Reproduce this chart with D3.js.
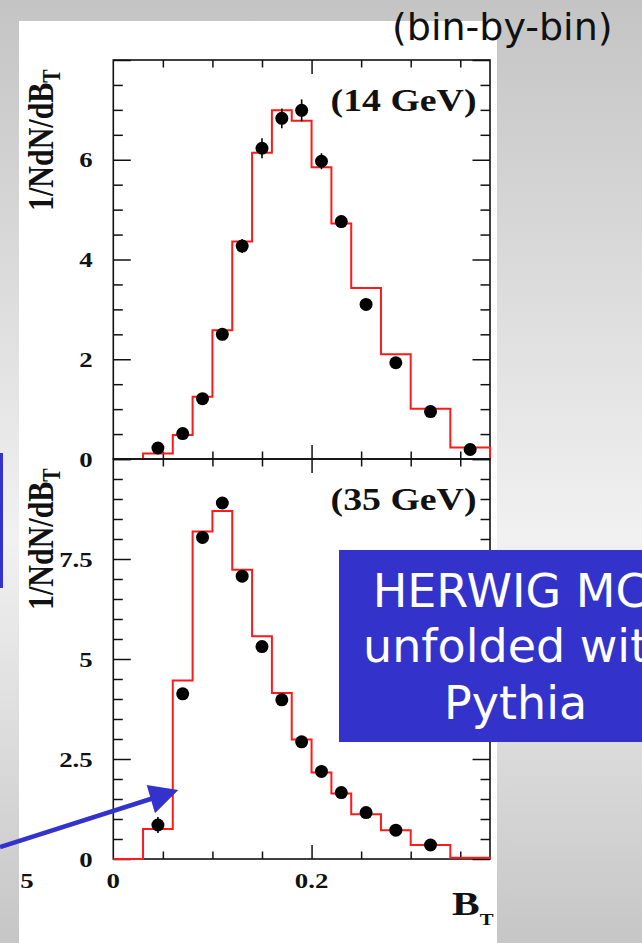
<!DOCTYPE html>
<html><head><meta charset="utf-8">
<script src="https://cdn.jsdelivr.net/npm/d3@7"></script>
<style>html,body{margin:0;padding:0;overflow:hidden;background:#fff}</style>
</head><body>
<svg id="c" width="642" height="943"></svg>
<script>
// ---- data ----
const binEdges14 = [0.03,0.06,0.08,0.10,0.12,0.14,0.16,0.18,0.20,0.22,0.24,0.27,0.30,0.34,0.38];
const mc14 = [0.11,0.48,1.25,2.58,4.36,6.14,6.99,6.78,5.85,4.72,3.43,2.10,1.01,0.23];
const dataX14 = [0.045,0.07,0.09,0.11,0.13,0.15,0.17,0.19,0.21,0.23,0.255,0.285,0.32,0.36];
const data14 = [0.22,0.51,1.21,2.50,4.27,6.23,6.83,6.99,5.97,4.76,3.10,1.93,0.95,0.19];
const err14 = [0.04,0.05,0.07,0.09,0.14,0.20,0.20,0.22,0.16,0.12,0.08,0.06,0.05,0.04];

const binEdges35 = [0,0.03,0.06,0.08,0.10,0.12,0.14,0.16,0.18,0.20,0.22,0.24,0.27,0.30,0.34,0.38];
const mc35 = [0,0.75,4.46,8.19,8.70,7.23,5.57,4.15,2.99,2.16,1.64,1.12,0.72,0.35,0.03];
const dataX35 = [0.045,0.07,0.09,0.11,0.13,0.15,0.17,0.19,0.21,0.23,0.255,0.285,0.32];
const data35 = [0.85,4.13,8.04,8.90,7.07,5.31,3.98,2.93,2.19,1.66,1.16,0.72,0.35];
const err35 = [0.2,0.12,0.15,0.15,0.12,0.1,0.08,0.07,0.06,0.05,0.05,0.04,0.04];

const xMajor = [0.2];
const xMinor = [0.05,0.10,0.15,0.25,0.30,0.35];
const yMajor14 = [0,2,4,6,8];
const yLabels14 = ["0","2","4","6"];
const yMajor35 = [0,2.5,5,7.5,10];
const yLabels35 = ["0","2.5","5","7.5"];
const xLabels = ["0","0.2"];
const panelTitles = ["(14 GeV)","(35 GeV)"];
const boxLines = ["HERWIG MC","unfolded with","Pythia"];

// ---- layout ----
const svg = d3.select("#c");
const W = 642, H = 943;
const X0 = 113.3, X1 = 490;
const SX = 1.22; // horizontal stretch of the original figure text
const serif = "'Liberation Serif','Times New Roman',serif";
const blue = "#3333cc";

const defs = svg.append("defs");
const g = defs.append("linearGradient").attr("id","bg").attr("x1",0).attr("y1",0).attr("x2",0).attr("y2",1);
g.append("stop").attr("offset","0").attr("stop-color","#c4c4c4");
g.append("stop").attr("offset","0.57").attr("stop-color","#f1f1f1");
g.append("stop").attr("offset","1").attr("stop-color","#c6c6c6");
svg.append("rect").attr("width",W).attr("height",H).attr("fill","url(#bg)");
svg.append("rect").attr("x",19).attr("y",21).attr("width",478).attr("height",H-21).attr("fill","#fff");

const x = d3.scaleLinear().domain([0,0.38]).range([X0,X1]);

function stretchedText(parent, tx, ty, txt, size, anchor, rot){
  return parent.append("text")
    .attr("transform", `translate(${tx},${ty}) scale(${SX},1)` + (rot?` rotate(${rot})`:""))
    .attr("text-anchor", anchor)
    .attr("font-family", serif).attr("font-weight","bold")
    .attr("font-size", size).attr("fill","#111")
    .text(txt);
}

function stepPoints(edges, vals){
  const pts = [[edges[0],0]];
  vals.forEach((v,i)=>{ pts.push([edges[i],v]); pts.push([edges[i+1],v]); });
  pts.push([edges[edges.length-1],0]);
  return pts;
}

function panel(yTop, yBot, ymax, yMajor, yLabels, edges, mc, dx, dy, de, title){
  const y = d3.scaleLinear().domain([0,ymax]).range([yBot,yTop]);
  const yMinor = d3.range(0, ymax+0.001, 0.5).filter(v => !yMajor.some(m=>Math.abs(m-v)<1e-6));
  const gp = svg.append("g");
  const axStyle = sel => { sel.select(".domain").remove(); sel.selectAll("text").remove();
    sel.selectAll("line").attr("stroke","#111").attr("stroke-width",1.5); };
  gp.append("g").attr("transform",`translate(${X0},0)`).call(d3.axisLeft(y).tickValues(yMajor).tickSize(-17.5)).call(axStyle);
  gp.append("g").attr("transform",`translate(${X0},0)`).call(d3.axisLeft(y).tickValues(yMinor).tickSize(-9.5)).call(axStyle);
  gp.append("g").attr("transform",`translate(${X1},0)`).call(d3.axisRight(y).tickValues(yMajor).tickSize(-17.5)).call(axStyle);
  gp.append("g").attr("transform",`translate(${X1},0)`).call(d3.axisRight(y).tickValues(yMinor).tickSize(-9.5)).call(axStyle);
  gp.append("g").attr("transform",`translate(0,${yBot})`).call(d3.axisBottom(x).tickValues(xMajor).tickSize(-14)).call(axStyle);
  gp.append("g").attr("transform",`translate(0,${yBot})`).call(d3.axisBottom(x).tickValues(xMinor).tickSize(-7.5)).call(axStyle);
  gp.append("g").attr("transform",`translate(0,${yTop})`).call(d3.axisTop(x).tickValues(xMajor).tickSize(-14)).call(axStyle);
  gp.append("g").attr("transform",`translate(0,${yTop})`).call(d3.axisTop(x).tickValues(xMinor).tickSize(-7.5)).call(axStyle);
  gp.append("rect").attr("x",X0).attr("y",yTop).attr("width",X1-X0).attr("height",yBot-yTop)
    .attr("fill","none").attr("stroke","#111").attr("stroke-width",1.6);

  // tick labels
  yLabels.forEach((t,i)=> stretchedText(svg, 92.7, y(yMajor[i])+7.5, t, 22, "end"));

  // MC histogram
  const line = d3.line().x(d=>x(d[0])).y(d=>y(d[1]));
  gp.append("path").attr("d", line(stepPoints(edges, mc)))
    .attr("fill","none").attr("stroke","#ff1a1a").attr("stroke-width",2);

  // data error bars + points
  gp.selectAll(null).data(dx).enter().append("line")
    .attr("x1",d=>x(d)).attr("x2",d=>x(d))
    .attr("y1",(d,i)=>y(dy[i]-de[i])).attr("y2",(d,i)=>y(dy[i]+de[i]))
    .attr("stroke","#000").attr("stroke-width",1.6);
  gp.selectAll(null).data(dx).enter().append("circle")
    .attr("cx",d=>x(d)).attr("cy",(d,i)=>y(dy[i])).attr("r",6.5).attr("fill","#000");

  // panel title
  stretchedText(svg, 476.5, yTop+51, title, 31, "end");

  // y-axis label
  const lab = stretchedText(svg, 53, yTop+151, "1/NdN/dB", 30, "start", -90);
  lab.append("tspan").attr("font-size",20).attr("dy",6).text("T");
  return y;
}

panel(60, 459, 8, yMajor14, yLabels14, binEdges14, mc14, dataX14, data14, err14, panelTitles[0]);
panel(459, 859, 10, yMajor35, yLabels35, binEdges35, mc35, dataX35, data35, err35, panelTitles[1]);

// x labels
stretchedText(svg, x(0), 888, xLabels[0], 22, "middle");
stretchedText(svg, x(0.2), 888, xLabels[1], 22, "middle");
const bt = stretchedText(svg, 452, 915, "B", 34, "start");
bt.append("tspan").attr("font-size",17).attr("dy",10).text("T");
// stray tick label from neighbouring figure
stretchedText(svg, 27, 888, "5", 22, "middle");

// slide annotations
svg.append("text").attr("x",392).attr("y",40).attr("font-family","'DejaVu Sans',sans-serif")
  .attr("font-size",38).attr("fill","#111").text("(bin-by-bin)");

svg.append("rect").attr("x",0).attr("y",453).attr("width",3).attr("height",135).attr("fill",blue);

svg.append("rect").attr("x",339).attr("y",550).attr("width",W-339).attr("height",192).attr("fill",blue);
const bx = [372.7, 363, 444], by = [606.7, 661.7, 719];
boxLines.forEach((t,i)=> svg.append("text").attr("x",bx[i]).attr("y",by[i])
  .attr("font-family","'DejaVu Sans',sans-serif").attr("font-size",46).attr("fill","#fff").text(t));

// arrow
svg.append("line").attr("x1",0).attr("y1",847).attr("x2",160).attr("y2",796)
  .attr("stroke",blue).attr("stroke-width",4.5);
svg.append("path").attr("d","M178.3,790 L146.7,785 L155,813.3 Z").attr("fill",blue);
</script>
</body></html>
